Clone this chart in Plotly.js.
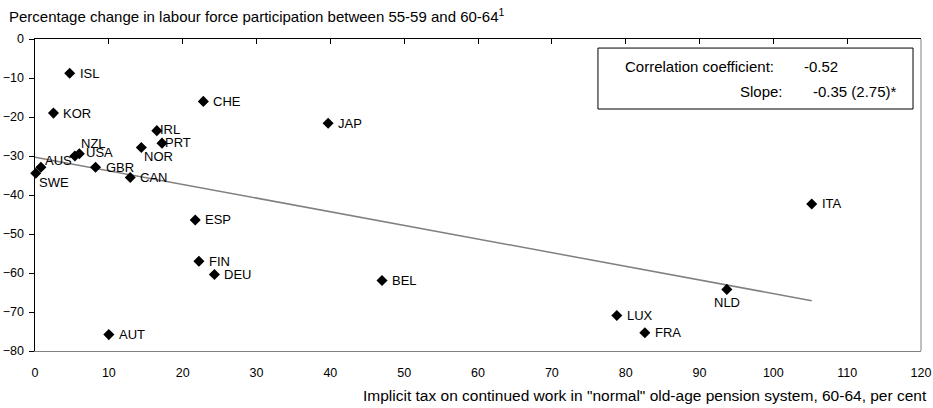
<!DOCTYPE html>
<html>
<head>
<meta charset="utf-8">
<script src="https://cdn.plot.ly/plotly-3.0.1.min.js"></script>
<style>html,body{margin:0;padding:0;background:#fff;}#chart{width:933px;height:408px;}</style>
</head>
<body>
<div id="chart"></div>
<script>
// Data
const countries = ["ISL","KOR","NZL","USA","AUS","SWE","GBR","CAN","NOR","IRL","PRT","CHE","JAP","ESP","FIN","DEU","BEL","AUT","ITA","NLD","LUX","FRA"];
const implicitTax = [4.7, 2.5, 5.4, 6.0, 0.8, 0.1, 8.2, 12.9, 14.4, 16.5, 17.2, 22.8, 39.7, 21.7, 22.2, 24.3, 47.0, 10.0, 105.2, 93.7, 78.8, 82.6];
const participationChange = [-8.8, -19.0, -30.0, -29.4, -32.9, -34.4, -32.9, -35.5, -27.8, -23.5, -26.7, -16.0, -21.6, -46.4, -57.0, -60.4, -61.9, -75.8, -42.3, -64.2, -70.9, -75.3];
const labelPlacement = ["right","right","above","nearRight","aboveRight","belowRight","right","right","belowRight","tight","tight","right","right","right","right","right","right","right","right","below","right","right"];
const trendX = [0, 105.2];
const trendY = [-30.3, -67.1];
const xTicks = [0,10,20,30,40,50,60,70,80,90,100,110,120];
const yTicks = [0,-10,-20,-30,-40,-50,-60,-70,-80];
const statsLabels = ["Correlation coefficient:", "Slope:"];
const statsValues = ["-0.52", "-0.35 (2.75)*"];

const FONT = "Liberation Sans, Arial, sans-serif";

// label placement styles (pixel offsets from the marker)
const placementStyle = {
  right:      {xanchor: "left",   yanchor: "middle", xshift: 9,  yshift: 0},
  nearRight:  {xanchor: "left",   yanchor: "middle", xshift: 6,  yshift: 1},
  tight:      {xanchor: "left",   yanchor: "middle", xshift: 2,  yshift: 1},
  above:      {xanchor: "left",   yanchor: "middle", xshift: 5,  yshift: 13},
  aboveRight: {xanchor: "left",   yanchor: "middle", xshift: 3,  yshift: 7},
  belowRight: {xanchor: "left",   yanchor: "middle", xshift: 2,  yshift: -9},
  below:      {xanchor: "center", yanchor: "middle", xshift: 0,  yshift: -13}
};

const traces = [
  {
    x: trendX, y: trendY, mode: "lines", type: "scatter",
    line: {color: "#808080", width: 1.5}, hoverinfo: "skip", showlegend: false
  },
  {
    x: implicitTax, y: participationChange,
    mode: "markers", type: "scatter",
    marker: {symbol: "diamond", size: 8.5, color: "#000"},
    cliponaxis: false, showlegend: false
  },
  {
    x: [0, 120], y: [0, 0], xaxis: "x2", mode: "none", type: "scatter",
    hoverinfo: "skip", showlegend: false
  }
];

const labelAnnotations = countries.map((c, i) => Object.assign({
  text: c, x: implicitTax[i], y: participationChange[i], xref: "x", yref: "y",
  showarrow: false, borderpad: 0, font: {family: FONT, size: 13, color: "#000"}
}, placementStyle[labelPlacement[i]]));

const layout = {
  width: 933, height: 408,
  margin: {l: 35, r: 12, t: 39, b: 57},
  paper_bgcolor: "#fff", plot_bgcolor: "#fff",
  font: {family: FONT, size: 12.5, color: "#000"},
  showlegend: false,
  xaxis: {
    range: [0, 120], tickvals: xTicks, ticks: "", showgrid: false, zeroline: false,
    showline: true, linecolor: "#808080", linewidth: 1,
    tickfont: {family: FONT, size: 12.5}, ticklabelstandoff: 10
  },
  xaxis2: {
    range: [0, 120], tickvals: xTicks, overlaying: "x", side: "top", anchor: "y",
    ticks: "inside", ticklen: 5, tickcolor: "#000", showticklabels: false,
    showgrid: false, zeroline: false, showline: true, linecolor: "#000", linewidth: 1.5
  },
  yaxis: {
    range: [-80, 0], tickvals: yTicks, ticks: "outside", ticklen: 5, tickcolor: "#000",
    showgrid: false, zeroline: false, showline: true, linecolor: "#000", linewidth: 1.5,
    tickfont: {family: FONT, size: 12.5}, ticklabelstandoff: 2
  },
  shapes: [
    {type: "line", xref: "x domain", yref: "y domain", x0: 1, x1: 1, y0: 0, y1: 1,
     line: {color: "#808080", width: 1}},
    {type: "rect", xref: "paper", yref: "paper", x0: 0.6354, x1: 0.991, y0: 0.7756, y1: 0.971,
     line: {color: "#000", width: 1}, fillcolor: "#fff", layer: "below"}
  ],
  annotations: [
    {text: "Percentage change in labour force participation between 55-59 and 60-64<sup>1</sup>",
     xref: "paper", yref: "paper", x: -0.0305, y: 1.074, xanchor: "left", yanchor: "middle",
     showarrow: false, borderpad: 0, font: {family: FONT, size: 15}},
    {text: "Implicit tax on continued work in \"normal\" old-age pension system, 60-64, per cent",
     xref: "paper", yref: "paper", x: 1.0079, y: -0.144, xanchor: "right", yanchor: "middle",
     showarrow: false, borderpad: 0, font: {family: FONT, size: 15.5}},
    {text: statsLabels[0], xref: "paper", yref: "paper", x: 0.8347, y: 0.911, xanchor: "right", yanchor: "middle",
     showarrow: false, borderpad: 0, font: {family: FONT, size: 15}},
    {text: statsLabels[1], xref: "paper", yref: "paper", x: 0.8454, y: 0.831, xanchor: "right", yanchor: "middle",
     showarrow: false, borderpad: 0, font: {family: FONT, size: 15}},
    {text: statsValues[0], xref: "paper", yref: "paper", x: 0.8668, y: 0.911, xanchor: "left", yanchor: "middle",
     showarrow: false, borderpad: 0, font: {family: FONT, size: 15}},
    {text: statsValues[1], xref: "paper", yref: "paper", x: 0.8766, y: 0.831, xanchor: "left", yanchor: "middle",
     showarrow: false, borderpad: 0, font: {family: FONT, size: 15}}
  ].concat(labelAnnotations)
};

Plotly.newPlot("chart", traces, layout, {displayModeBar: false, staticPlot: true});
</script>
</body>
</html>
